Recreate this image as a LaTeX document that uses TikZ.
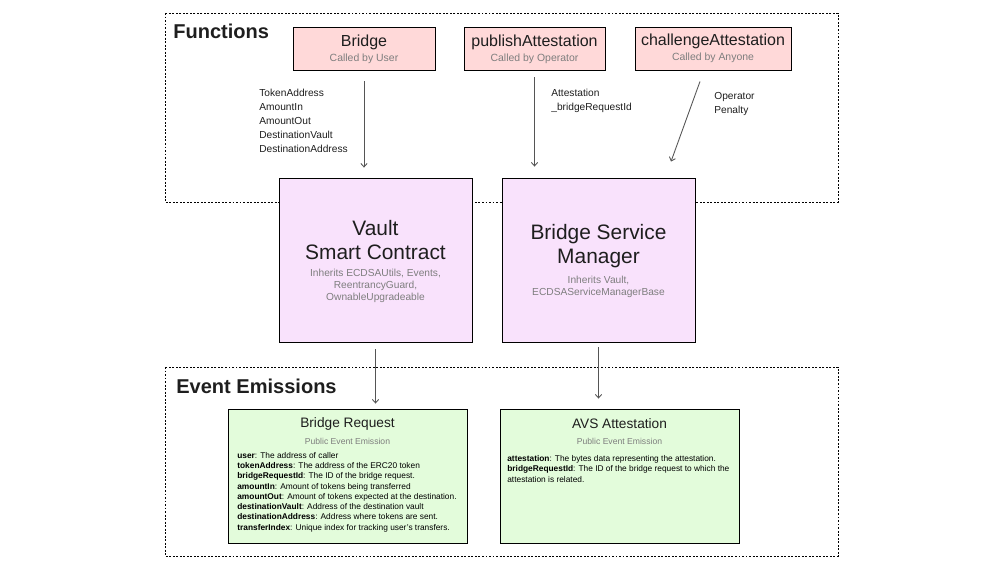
\documentclass[tikz,border=0pt]{standalone}
\usepackage{fontspec}
\setmainfont{Liberation Sans}
\usetikzlibrary{arrows.meta}

\definecolor{ink}{HTML}{1E1E1E}
\definecolor{muted}{HTML}{7E7E7E}
\definecolor{fnpink}{HTML}{FFD9D9}
\definecolor{ctlilac}{HTML}{F9E2FC}
\definecolor{evgreen}{HTML}{E3FCDB}
\definecolor{wire}{HTML}{555555}

\begin{document}
\begin{tikzpicture}[x=0.02cm, y=-0.02cm,
  frame/.style={line width=0.5pt, dash pattern=on 1.1pt off 0.9pt},
  heading/.style={anchor=west, inner sep=0pt, text=ink, font=\fontsize{11.4}{13}\selectfont\bfseries},
  fnbox/.style={draw, line width=0.5pt, fill=fnpink, minimum height=0.86cm, inner sep=0pt},
  ctbox/.style={draw, line width=0.5pt, fill=ctlilac, minimum width=3.86cm, minimum height=3.28cm, inner sep=0pt},
  evbox/.style={draw, line width=0.5pt, fill=evgreen, minimum width=4.78cm, minimum height=2.68cm, inner sep=0pt},
  fntitle/.style={inner sep=0pt, text=ink, font=\fontsize{9.1}{11}\selectfont},
  cttitle/.style={inner sep=0pt, text=ink, align=center, font=\fontsize{11.9}{13.6}\selectfont},
  evtitle/.style={inner sep=0pt, text=ink, font=\fontsize{7.8}{9}\selectfont},
  caller/.style={inner sep=0pt, text=muted, font=\fontsize{5.95}{7}\selectfont},
  inherit/.style={inner sep=0pt, text=muted, align=center, font=\fontsize{5.8}{6.8}\selectfont},
  emission/.style={inner sep=0pt, text=muted, font=\fontsize{4.9}{6}\selectfont},
  args/.style={anchor=west, inner sep=0pt, text=ink, align=left, font=\fontsize{5.8}{7.94}\selectfont},
  fields/.style={anchor=west, inner sep=0pt, text=black, align=left, font=\fontsize{4.75}{5.85}\selectfont},
  flow/.style={wire, line width=0.5pt, -{Straight Barb[length=2pt,width=3.6pt]}}
]
  % page size
  \useasboundingbox (0,0) rectangle (1000,571);

  % dashed groups
  \draw[frame] (165,13) rectangle (838,202);
  \draw[frame] (165,367) rectangle (838,556);
  \node[heading] (fnHead) at (173,31) {Functions};
  \node[heading] (evHead) at (176,386) {Event Emissions};

  % functions
  \node[fnbox, minimum width=2.84cm] (bridge) at (364,48.5) {};
  \node[fntitle] (bridgeT) at (364,42) {Bridge};
  \node[caller] (bridgeC) at (364,59) {Called by User};

  \node[fnbox, minimum width=2.82cm] (pub) at (534.5,48.5) {};
  \node[fntitle] (pubT) at (534.5,42) {publishAttestation};
  \node[caller] (pubC) at (534.5,59) {Called by Operator};

  \node[fnbox, minimum width=3.12cm] (chal) at (713,48.5) {};
  \node[fntitle] (chalT) at (713,41) {challengeAttestation};
  \node[caller] (chalC) at (713,58) {Called by Anyone};

  % contracts
  \node[ctbox] (vault) at (375.5,260) {};
  \node[cttitle] (vaultT) at (375.5,240) {Vault\\Smart Contract};
  \node[inherit] (vaultI) at (375.5,286) {Inherits ECDSAUtils, Events,\\ReentrancyGuard,\\OwnableUpgradeable};

  \node[ctbox] (bsm) at (598.5,260) {};
  \node[cttitle] (bsmT) at (598.5,246) {Bridge Service\\Manager};
  \node[inherit] (bsmI) at (598.5,287) {Inherits Vault,\\ECDSAServiceManagerBase};

  % events
  \node[evbox] (breq) at (347.5,476) {};
  \node[evtitle] (breqT) at (347.5,424) {Bridge Request};
  \node[emission] (breqE) at (347.5,441) {Public Event Emission};
  \node[fields] (breqF) at (237,492) {\textbf{user}: The address of caller\\
    \textbf{tokenAddress}: The address of the ERC20 token\\
    \textbf{bridgeRequestId}: The ID of the bridge request.\\
    \textbf{amountIn}: Amount of tokens being transferred\\
    \textbf{amountOut}: Amount of tokens expected at the destination.\\
    \textbf{destinationVault}: Address of the destination vault\\
    \textbf{destinationAddress}: Address where tokens are sent.\\
    \textbf{transferIndex}: Unique index for tracking user's transfers.};

  \node[evbox] (avs) at (619.5,476) {};
  \node[evtitle] (avsT) at (619.5,424) {AVS Attestation};
  \node[emission] (avsE) at (619.5,441) {Public Event Emission};
  \node[fields] (avsF) at (507,469) {\textbf{attestation}: The bytes data representing the attestation.\\
    \textbf{bridgeRequestId}: The ID of the bridge request to which the\\
    attestation is related.};

  % calls
  \draw[flow, shorten <=0.22cm, shorten >=0.2cm] (bridge) -- (bridge |- vault.north);
  \node[args] (bridgeA) at (259,121) {TokenAddress\\AmountIn\\AmountOut\\DestinationVault\\DestinationAddress};

  \draw[flow, shorten <=0.14cm, shorten >=0.22cm] (pub) -- (pub |- bsm.north);
  \node[args] (pubA) at (551,101) {Attestation\\\_bridgeRequestId};

  \draw[flow] ([xshift=-0.26cm, yshift=-0.22cm]chal.south) -- ([xshift=1.45cm, yshift=0.32cm]bsm.north);
  \node[args] (chalA) at (714,104) {Operator\\Penalty};

  % emits
  \draw[flow, shorten <=0.14cm, shorten >=0.1cm] (vault) -- (vault |- breq.north);
  \draw[flow, shorten <=0.1cm, shorten >=0.2cm] (bsm) -- (bsm |- avs.north);

\end{tikzpicture}
\end{document}
